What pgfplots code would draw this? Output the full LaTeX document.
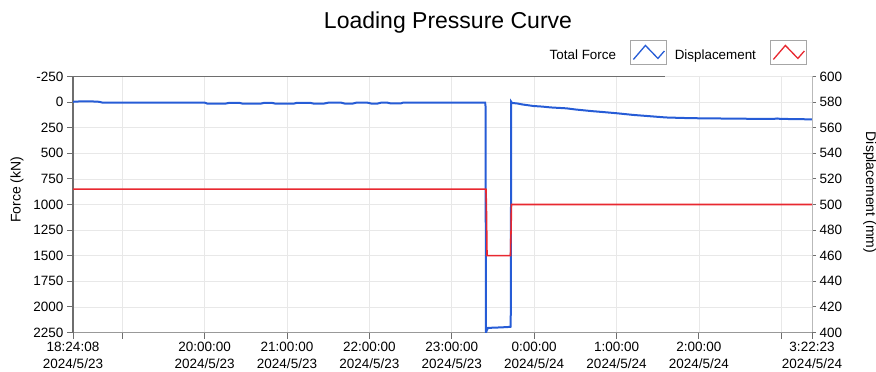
\documentclass[border=0pt]{standalone}
\usepackage{fontspec}
\setmainfont{Liberation Sans}
\usepackage{pgfplots}
\pgfplotsset{compat=1.18}
\definecolor{forceblue}{RGB}{38,92,214}
\definecolor{dispred}{RGB}{232,40,48}
\definecolor{gridgray}{RGB}{232,232,232}
\definecolor{axgray}{RGB}{110,110,110}
\begin{document}
\begin{tikzpicture}
\useasboundingbox (0,0) rectangle (876bp,372bp);
\pgfplotsset{
  common/.style={
    scale only axis, width=739bp, height=256bp,
    at={(73bp,39.5bp)}, anchor=south west,
    xmin=0.40222, xmax=9.37306,
    /pgf/number format/assume math mode=true,
    /pgf/number format/1000 sep={},
    tick label style={font=\fontsize{13.5bp}{16bp}\selectfont},
    label style={font=\fontsize{14bp}{16bp}\selectfont},
    tick align=outside,
  }
}
\begin{axis}[common,
  y dir=reverse, ymin=-250, ymax=2250, ytick={-250,0,250,...,2250},
  axis x line*=bottom, axis y line*=left,
  x axis line style={-, draw=gray!80, line width=1.5bp},
  y axis line style={-, draw=axgray, line width=2bp},
  xtick={0.40222,1,2,3,4,5,6,7,8,9,9.37306},
  xticklabels={{18:24:08\\2024/5/23},{},{20:00:00\\2024/5/23},{21:00:00\\2024/5/23},{22:00:00\\2024/5/23},{23:00:00\\2024/5/23},{0:00:00\\2024/5/24},{1:00:00\\2024/5/24},{2:00:00\\2024/5/24},{},{3:22:23\\2024/5/24}},
  xticklabel style={align=center, font=\fontsize{13.5bp}{17.4bp}\selectfont},
  grid=major, major grid style={gridgray, line width=0.8bp},
  major tick length=6bp, tick style={axgray, line width=1bp},
  ylabel={Force (kN)},
  ylabel style={at={(axis description cs:-0.0758,0.557)}, anchor=center},
]
\addplot[forceblue, line width=2bp] coordinates {
(0.40222,-3) (0.47,-6) (0.55,-7) (0.65,-6) (0.72,-3) (0.76,5) (2.0,5)
(2.03,14) (2.25,15) (2.3,7) (2.42,7) (2.46,15) (2.68,15) (2.72,8) (2.82,8)
(2.86,15) (3.08,15) (3.12,7) (3.28,7) (3.32,14) (3.45,14) (3.5,6) (3.66,6)
(3.7,14) (3.8,14) (3.84,6) (3.98,6) (4.02,14) (4.1,14) (4.14,6) (4.22,6)
(4.26,13) (4.38,13) (4.41,5) (5.405,5) (5.41,40) (5.415,2250) (5.425,2230)
(5.44,2205) (5.60,2200) (5.713,2195) (5.716,2100) (5.722,-2) (5.73,8)
(5.8,14) (5.85,22) (5.99,38) (6.1,44) (6.2,52) (6.394,61) (6.5,72) (6.7,88)
(6.85,98) (7.005,109) (7.2,125) (7.487,143) (7.6,150) (7.806,155) (8.0,158)
(8.5,162) (8.9,165) (8.95,160) (9.0,165) (9.05,163) (9.1,166) (9.2,167) (9.37306,168)
};
\draw[axgray, line width=1.5bp] (axis description cs:0,1) -- (axis description cs:0.801,1);
\end{axis}
\begin{axis}[common,
  ymin=400, ymax=600, ytick={400,420,...,600},
  axis x line=none, axis y line*=right,
  y axis line style={-, draw=gray!55, line width=1bp},
  major tick length=4bp, tick style={axgray, line width=1bp},
  ylabel={Displacement (mm)},
  ylabel style={at={(axis description cs:1.078,0.547)}, anchor=center, rotate=180},
  legend plot pos=right,
  legend columns=2,
  legend image code/.code={
    \draw[gray!70, line width=0.8bp, fill=white] (0bp,-9bp) rectangle (36bp,15bp);
    \draw[#1, line width=1.3bp] (3bp,-4bp) -- (15bp,10bp) -- (27.5bp,-3bp) -- (34bp,4.5bp);},
  legend style={draw=none, fill=none, at={(axis description cs:0.9932,1.094)}, anchor=east,
    inner sep=0pt, font=\fontsize{13.4bp}{16bp}\selectfont,
    /tikz/every odd column/.append style={column sep=12bp},
    /tikz/every even column/.append style={column sep=6bp}},
]
\addlegendimage{forceblue, line width=2bp}
\addlegendentry{Total Force}
\addplot[dispred, line width=1.6bp] coordinates {
(0.40222,512) (5.415,512) (5.42,500) (5.428,460) (5.713,460) (5.716,472) (5.72,480) (5.724,500) (9.37306,500)
};
\addlegendentry{Displacement}
\end{axis}
\node[font=\fontsize{23bp}{26bp}\selectfont, anchor=base] at (448bp,343bp) {Loading Pressure Curve};
\end{tikzpicture}
\end{document}
